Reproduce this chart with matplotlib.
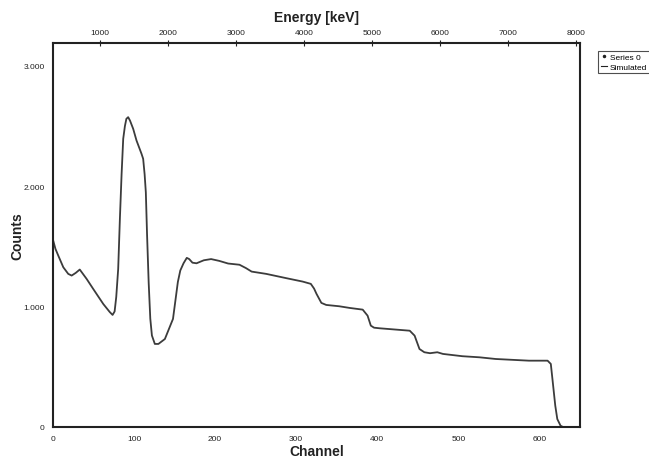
import matplotlib
matplotlib.use("Agg")
import matplotlib.pyplot as plt
from matplotlib.lines import Line2D
from matplotlib.ticker import FixedLocator, FixedFormatter

plt.rcParams['font.family'] = ['Liberation Sans', 'DejaVu Sans']

# Simulated spectrum: channel number and counts
channel = [0, 3, 6.5, 12.7, 18.8, 23, 28, 33, 41.5, 49.6, 62, 70, 73.5, 76,
           78, 80.4, 82.5, 84.6, 86.6, 88.7, 90.5, 92.7, 95, 98.9, 103, 109.2,
           111.2, 113, 114.5, 116, 118, 120, 122, 125.6, 130, 138, 148, 154,
           157, 161, 165, 168, 172, 177, 186, 195, 205, 216, 230, 238, 245,
           263, 288, 308, 318, 322, 325, 331, 337, 353, 366, 382, 388, 392,
           396, 403, 440, 446, 452, 458, 465, 474, 481, 505, 526, 546, 587,
           610, 614, 616, 619.5, 622, 626, 629, 650]
counts = [1555, 1480, 1424, 1327, 1272, 1258, 1280, 1308, 1230, 1147, 1022,
          955, 931, 960, 1080, 1313, 1729, 2100, 2394, 2500, 2560, 2574, 2545,
          2477, 2380, 2269, 2228, 2100, 1950, 1600, 1200, 900, 760, 690, 690,
          731, 898, 1205, 1300, 1360, 1405, 1395, 1365, 1360, 1385, 1395,
          1380, 1358, 1348, 1320, 1291, 1272, 1236, 1208, 1189, 1150, 1106,
          1031, 1014, 1003, 989, 975, 925, 842, 825, 820, 800, 759, 648, 621,
          613, 621, 607, 588, 579, 565, 551, 551, 524, 399, 177, 66, 11, 0, 0]

channel_ticks = [0, 100, 200, 300, 400, 500, 600]
count_ticks = [0, 1000, 2000, 3000]
count_labels = ["0", "1.000", "2.000", "3.000"]
energy_ticks = [1000, 2000, 3000, 4000, 5000, 6000, 7000, 8000]

fig = plt.figure(figsize=(6.49, 4.6), dpi=100)
ax = fig.add_axes([53 / 649, 1 - 428 / 460, (580 - 53) / 649, (428 - 44) / 460])

ax.plot(channel, counts, color="#3c3c3c", lw=1.3, solid_joinstyle="round")

ax.set_xlim(0, 650)
ax.set_ylim(0, 3190)
ax.xaxis.set_major_locator(FixedLocator(channel_ticks))
ax.yaxis.set_major_locator(FixedLocator(count_ticks))
ax.yaxis.set_major_formatter(FixedFormatter(count_labels))
ax.tick_params(axis="both", length=0, labelsize=6, colors="#222222")
ax.tick_params(axis="x", pad=6)
ax.tick_params(axis="y", pad=6)

for s in ax.spines.values():
    s.set_linewidth(1.5)
    s.set_color("#222222")

ax.set_xlabel("Channel", fontsize=10, fontweight="bold", labelpad=1, color="#222222")
ax.set_ylabel("Counts", fontsize=10, fontweight="bold", color="#222222")
ax.yaxis.set_label_coords(-0.055, 0.5)

# Energy scale along the top
top = ax.twiny()
top.set_xlim(310, 8060)
top.xaxis.set_major_locator(FixedLocator(energy_ticks))
top.tick_params(axis="x", direction="inout", length=4, width=0.8,
                labelsize=6, pad=3, colors="#222222")
top.set_xlabel("Energy [keV]", fontsize=10, fontweight="bold", labelpad=6, color="#222222")
for s in top.spines.values():
    s.set_visible(False)

handles = [
    Line2D([], [], ls="none", marker=".", markersize=3, color="#222222"),
    Line2D([], [], ls="-", lw=0.8, color="#222222"),
]
leg = fig.legend(handles, ["Series 0", "Simulated"], loc="upper left",
                 bbox_to_anchor=(598 / 649, 1 - 52 / 460), fontsize=6,
                 frameon=True, fancybox=False, handlelength=0.8,
                 handletextpad=0.3, borderpad=0.3, labelspacing=0.2,
                 borderaxespad=0)
leg.get_frame().set_edgecolor("#222222")
leg.get_frame().set_linewidth(0.8)

fig.savefig("out.png", dpi=100)
